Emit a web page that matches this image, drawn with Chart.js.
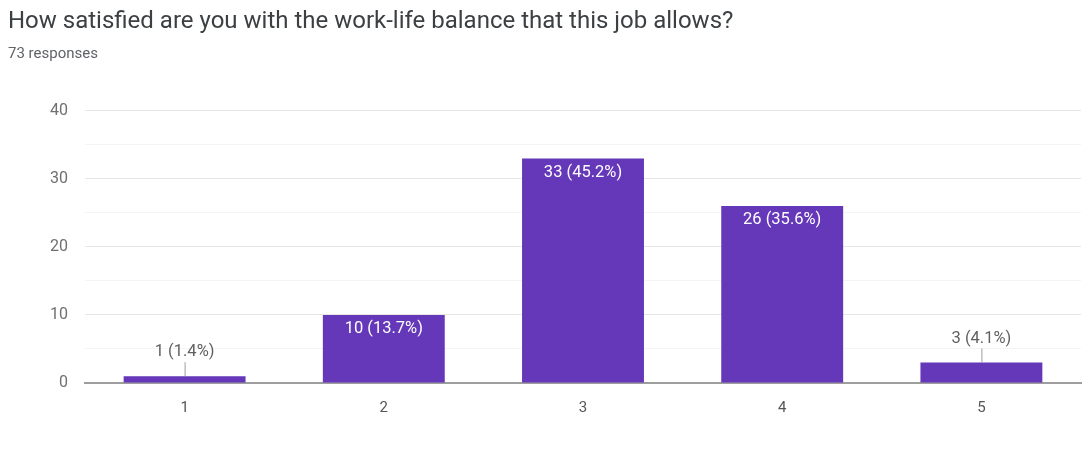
<!DOCTYPE html>
<html>
<head>
<meta charset="utf-8">
<script src="https://cdn.jsdelivr.net/npm/chart.js@4/dist/chart.umd.min.js"></script>
<style>
  html, body { margin: 0; padding: 0; background: #ffffff; }
  #wrap { width: 1086px; height: 454px; position: relative; }
</style>
</head>
<body>
<div id="wrap"><canvas id="c" width="1086" height="454"></canvas></div>
<script>
const titleText = "How satisfied are you with the work-life balance that this job allows?";
const subtitleText = "73 responses";
const categories = ["1", "2", "3", "4", "5"];
const counts = [1, 10, 33, 26, 3];
const percents = ["1.4%", "13.7%", "45.2%", "35.6%", "4.1%"];
const yTicks = [0, 10, 20, 30, 40];

const barColor = "#6537b9";

const labelPlugin = {
  id: "valueLabels",
  afterDatasetsDraw(chart) {
    const ctx = chart.ctx;
    const meta = chart.getDatasetMeta(0);
    ctx.save();
    ctx.font = "16.5px Roboto, Arial, sans-serif";
    ctx.textAlign = "center";
    ctx.textBaseline = "middle";
    meta.data.forEach((bar, i) => {
      const txt = counts[i] + " (" + percents[i] + ")";
      const top = bar.y;
      const h = bar.base - bar.y;
      if (h > 30) {
        ctx.fillStyle = "#ffffff";
        ctx.fillText(txt, bar.x, top + 14);
      } else {
        ctx.strokeStyle = "#9e9e9e";
        ctx.lineWidth = 1;
        ctx.beginPath();
        ctx.moveTo(bar.x + 0.5, top - 14);
        ctx.lineTo(bar.x + 0.5, top);
        ctx.stroke();
        ctx.fillStyle = "#616161";
        ctx.fillText(txt, bar.x, top - 24);
      }
    });
    ctx.restore();
  }
};

new Chart(document.getElementById("c"), {
  type: "bar",
  data: {
    labels: categories,
    datasets: [{
      data: counts,
      backgroundColor: barColor,
      borderWidth: 0,
      barPercentage: 0.612,
      categoryPercentage: 1.0
    }]
  },
  options: {
    responsive: false,
    animation: false,
    layout: { padding: { left: 8, right: 5, top: 8, bottom: 0 } },
    plugins: {
      legend: { display: false },
      tooltip: { enabled: false },
      title: {
        display: true,
        text: titleText,
        align: "start",
        color: "#3c4043",
        font: { family: "Roboto, Arial, sans-serif", size: 24, weight: "normal" },
        padding: { top: 0, bottom: 5 }
      },
      subtitle: {
        display: true,
        text: subtitleText,
        align: "start",
        color: "#5f6368",
        font: { family: "Roboto, Arial, sans-serif", size: 15 },
        padding: { top: 3, bottom: 48 }
      }
    },
    scales: {
      x: {
        grid: { display: false, drawTicks: false },
        border: { display: true, color: "#9e9e9e", width: 2 },
        ticks: {
          color: "#555555",
          font: { family: "Roboto, Arial, sans-serif", size: 15 },
          padding: 16
        },
        afterFit(s) { s.height = 71; }
      },
      y: {
        min: 0,
        max: 40,
        border: { display: false },
        grid: {
          drawTicks: false,
          color: (c) => (c.tick.value % 10 === 0 ? "#e6e6e6" : "#f4f4f4"),
          lineWidth: 1
        },
        ticks: {
          stepSize: 5,
          color: "#707070",
          font: { family: "Roboto, Arial, sans-serif", size: 16 },
          padding: 17,
          callback: (v) => (yTicks.includes(v) ? String(v) : "")
        },
        afterFit(s) { s.width = 77; }
      }
    }
  },
  plugins: [labelPlugin]
});
</script>
</body>
</html>
